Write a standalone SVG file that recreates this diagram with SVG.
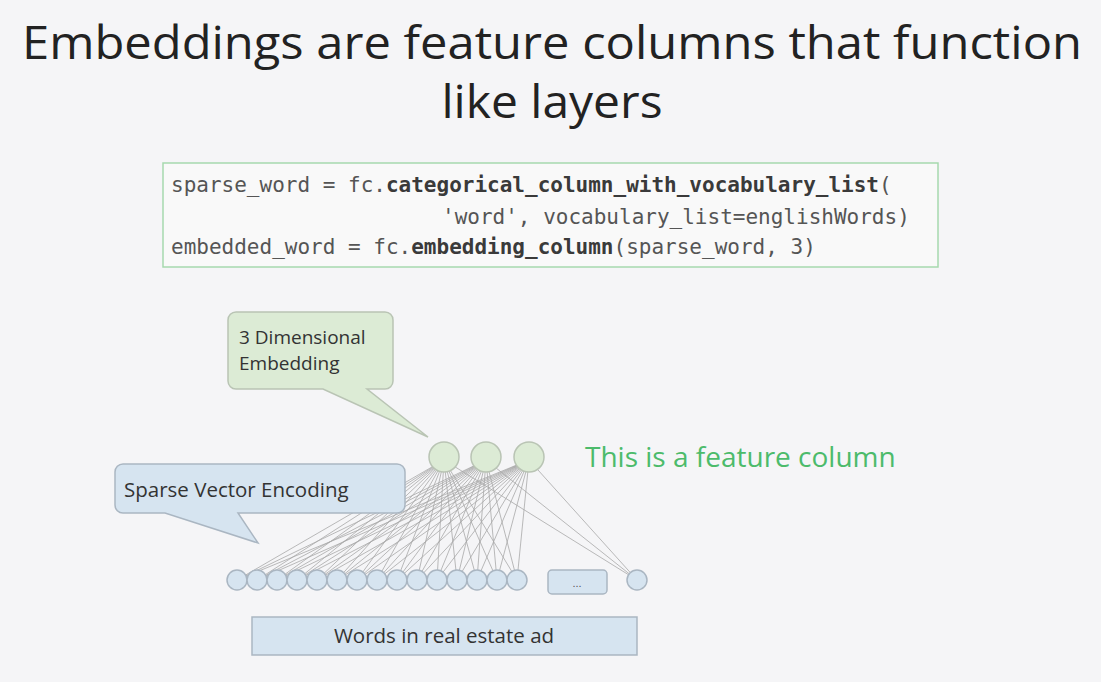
<svg xmlns="http://www.w3.org/2000/svg" width="1101" height="682" viewBox="0 0 1101 682">
<style>
.title{font-family:"Open Sans","Liberation Sans",sans-serif;font-size:46px;fill:#222;text-anchor:middle}
.code{font-family:"DejaVu Sans Mono","Liberation Mono",monospace;font-size:21px;fill:#555}
.code .b{fill:#3a3a3a;font-weight:bold}
.lbl{font-family:"Open Sans","Liberation Sans",sans-serif;font-size:20.5px;fill:#333}
.top{fill:#dcebd5;stroke:#b9c4b4;stroke-width:1.5}
.bot{fill:#d6e4f0;stroke:#aab6c2;stroke-width:1.5}
.edge{stroke:#a8a8a8;stroke-width:0.8;fill:none}
</style>
<rect width="1101" height="682" fill="#f5f5f7"/>
<g id="title">
<text class="title" x="552" y="59" textLength="1060" lengthAdjust="spacingAndGlyphs">Embeddings are feature columns that function</text>
<text class="title" x="552" y="118" textLength="221" lengthAdjust="spacingAndGlyphs">like layers</text>
</g>
<g id="code">
<rect x="163" y="163" width="775" height="104" fill="#f9f9f9" stroke="#a6d9ae" stroke-width="1.5"/>
<text class="code" x="171" y="192">sparse_word = fc.<tspan class="b">categorical_column_with_vocabulary_list</tspan>(</text>
<text class="code" x="442" y="224">'word', vocabulary_list=englishWords)</text>
<text class="code" x="171" y="254">embedded_word = fc.<tspan class="b">embedding_column</tspan>(sparse_word, 3)</text>
</g>
<g id="connectors">
<path class="edge" d="M444 460L237 580M444 460L257 580M444 460L277 580M444 460L297 580M444 460L317 580M444 460L337 580M444 460L357 580M444 460L377 580M444 460L397 580M444 460L417 580M444 460L437 580M444 460L457 580M444 460L477 580M444 460L497 580M444 460L517 580M444 460L637 580"/>
<path class="edge" d="M486 460L237 580M486 460L257 580M486 460L277 580M486 460L297 580M486 460L317 580M486 460L337 580M486 460L357 580M486 460L377 580M486 460L397 580M486 460L417 580M486 460L437 580M486 460L457 580M486 460L477 580M486 460L497 580M486 460L517 580M486 460L637 580"/>
<path class="edge" d="M529 460L237 580M529 460L257 580M529 460L277 580M529 460L297 580M529 460L317 580M529 460L337 580M529 460L357 580M529 460L377 580M529 460L397 580M529 460L417 580M529 460L437 580M529 460L457 580M529 460L477 580M529 460L497 580M529 460L517 580M529 460L637 580"/>
</g>
<g id="embedding-nodes">
<circle class="top" cx="444" cy="457" r="15"/>
<circle class="top" cx="486" cy="457" r="15"/>
<circle class="top" cx="529" cy="457" r="15"/>
</g>
<g id="sparse-nodes">
<circle class="bot" cx="237" cy="580" r="10"/>
<circle class="bot" cx="257" cy="580" r="10"/>
<circle class="bot" cx="277" cy="580" r="10"/>
<circle class="bot" cx="297" cy="580" r="10"/>
<circle class="bot" cx="317" cy="580" r="10"/>
<circle class="bot" cx="337" cy="580" r="10"/>
<circle class="bot" cx="357" cy="580" r="10"/>
<circle class="bot" cx="377" cy="580" r="10"/>
<circle class="bot" cx="397" cy="580" r="10"/>
<circle class="bot" cx="417" cy="580" r="10"/>
<circle class="bot" cx="437" cy="580" r="10"/>
<circle class="bot" cx="457" cy="580" r="10"/>
<circle class="bot" cx="477" cy="580" r="10"/>
<circle class="bot" cx="497" cy="580" r="10"/>
<circle class="bot" cx="517" cy="580" r="10"/>
<circle class="bot" cx="637" cy="580" r="10"/>
</g>
<g id="ellipsis-node">
<rect class="bot" x="548" y="570" width="59" height="24" rx="4"/>
<text x="577" y="587" font-family="Liberation Sans,sans-serif" font-size="11" fill="#555" text-anchor="middle">...</text>
</g>
<g id="words-box">
<rect class="bot" x="252" y="617" width="385" height="38"/>
<text class="lbl" x="444" y="643" text-anchor="middle">Words in real estate ad</text>
</g>
<g id="callout-embedding">
<path d="M236 312H385A8 8 0 0 1 393 320V381A8 8 0 0 1 385 389H367L428 437L323 389H236A8 8 0 0 1 228 381V320A8 8 0 0 1 236 312Z" fill="#dcebd5" stroke="#b9c4b4" stroke-width="1.5"/>
<text class="lbl" x="239" y="344" style="font-size:19px">3 Dimensional</text>
<text class="lbl" x="239" y="370" style="font-size:19px">Embedding</text>
</g>
<g id="callout-sparse">
<path d="M123 464H397A8 8 0 0 1 405 472V505A8 8 0 0 1 397 513H238L258 543L165 513H123A8 8 0 0 1 115 505V472A8 8 0 0 1 123 464Z" fill="#d6e4f0" stroke="#aab6c2" stroke-width="1.5"/>
<text class="lbl" x="124" y="497">Sparse Vector Encoding</text>
</g>
<g id="feature-label">
<text x="585" y="467" font-family="Open Sans,Liberation Sans,sans-serif" font-size="28" fill="#4cbb6b">This is a feature column</text>
</g>
</svg>
